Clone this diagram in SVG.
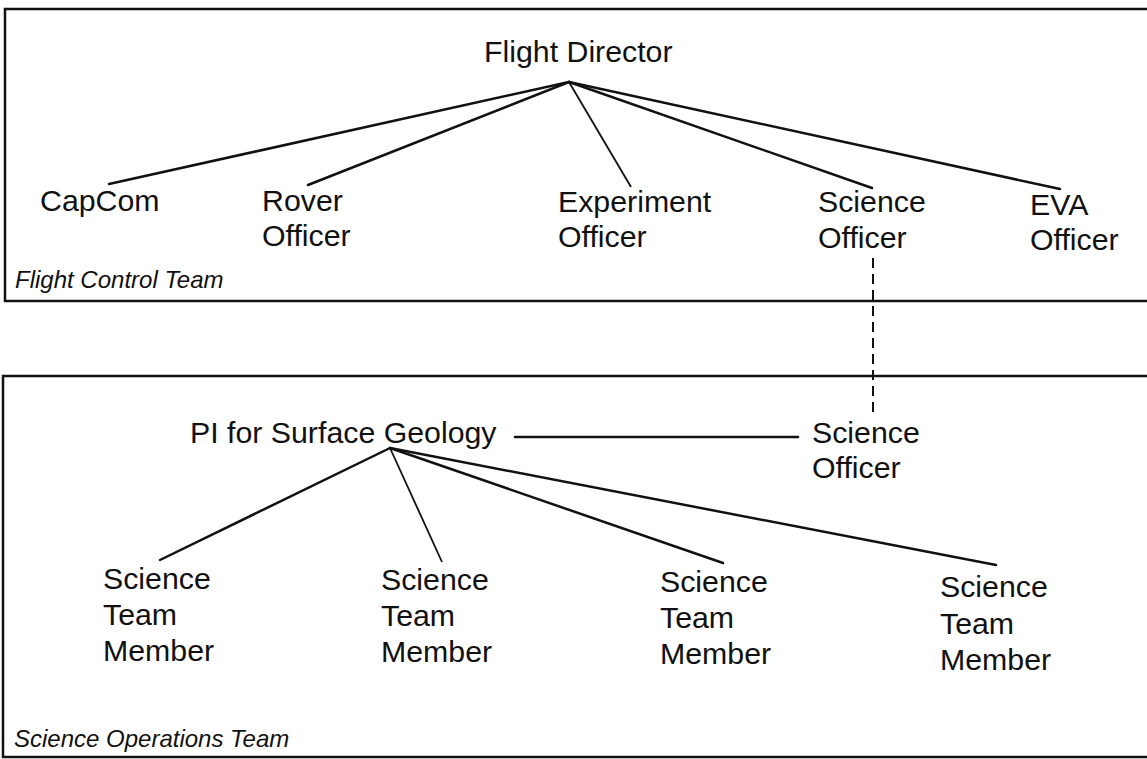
<svg xmlns="http://www.w3.org/2000/svg" width="1147" height="759" viewBox="0 0 1147 759">
<style>
.bg{fill:#ffffff}
.box{fill:none;stroke:#111;stroke-width:2.5}
.lbl{font-family:"Liberation Sans",Arial,sans-serif;font-size:30.3px;fill:#111}
.team{font-family:"Liberation Sans",Arial,sans-serif;font-size:24px;font-style:italic;fill:#111}
.con{stroke:#111;stroke-width:2.5;fill:none;stroke-linecap:round}
.thin{stroke:#111;stroke-width:1.8;fill:none}
.dash{stroke:#111;stroke-width:2;fill:none;stroke-dasharray:10,6}
</style>
<rect class="bg" x="0" y="0" width="1147" height="759"/>
<g id="flight-control-team">
<rect class="box" x="5" y="9" width="1160" height="292"/>
<text class="team" x="15" y="288">Flight Control Team</text>
</g>
<g id="science-operations-team">
<rect class="box" x="3" y="376" width="1160" height="381"/>
<text class="team" x="14" y="747">Science Operations Team</text>
</g>
<g id="connectors">
<line class="con" x1="569" y1="82" x2="109" y2="184"/>
<line class="con" x1="569" y1="82" x2="308" y2="185"/>
<line class="thin" x1="569" y1="82" x2="631" y2="187"/>
<line class="con" x1="569" y1="82" x2="872" y2="188"/>
<line class="con" x1="569" y1="82" x2="1060" y2="189"/>
<line class="dash" x1="873" y1="258" x2="873" y2="418"/>
<line class="con" x1="515" y1="437" x2="798" y2="437"/>
<line class="con" x1="390" y1="448" x2="160" y2="560"/>
<line class="thin" x1="390" y1="448" x2="442" y2="562"/>
<line class="con" x1="390" y1="448" x2="723" y2="563"/>
<line class="con" x1="390" y1="448" x2="996" y2="565"/>
</g>
<g id="flight-director"><text class="lbl" x="484" y="62">Flight Director</text></g>
<g id="capcom"><text class="lbl" x="40" y="211">CapCom</text></g>
<g id="rover-officer"><text class="lbl" x="262" y="211">Rover</text><text class="lbl" x="262" y="246">Officer</text></g>
<g id="experiment-officer"><text class="lbl" x="558" y="212">Experiment</text><text class="lbl" x="558" y="247">Officer</text></g>
<g id="science-officer-top"><text class="lbl" x="818" y="212">Science</text><text class="lbl" x="818" y="248">Officer</text></g>
<g id="eva-officer"><text class="lbl" x="1030" y="215">EVA</text><text class="lbl" x="1030" y="250">Officer</text></g>
<g id="pi-surface-geology"><text class="lbl" x="190" y="443">PI for Surface Geology</text></g>
<g id="science-officer-bottom"><text class="lbl" x="812" y="443">Science</text><text class="lbl" x="812" y="478">Officer</text></g>
<g id="member-1"><text class="lbl" x="103" y="589">Science</text><text class="lbl" x="103" y="625">Team</text><text class="lbl" x="103" y="661">Member</text></g>
<g id="member-2"><text class="lbl" x="381" y="590">Science</text><text class="lbl" x="381" y="626">Team</text><text class="lbl" x="381" y="662">Member</text></g>
<g id="member-3"><text class="lbl" x="660" y="592">Science</text><text class="lbl" x="660" y="628">Team</text><text class="lbl" x="660" y="664">Member</text></g>
<g id="member-4"><text class="lbl" x="940" y="597">Science</text><text class="lbl" x="940" y="634">Team</text><text class="lbl" x="940" y="670">Member</text></g>
</svg>
